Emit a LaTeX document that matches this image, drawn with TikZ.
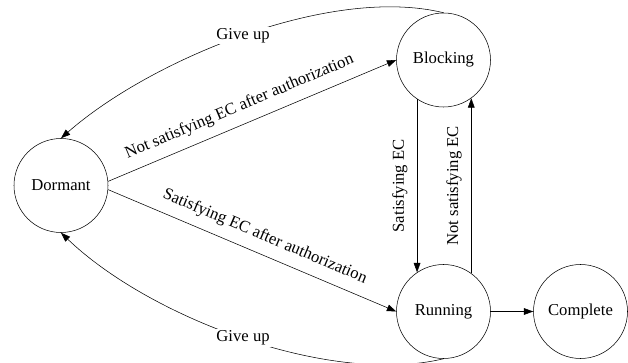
\documentclass[tikz,border=0pt]{standalone}
\usepackage{fontspec}
\setmainfont{Liberation Serif}
\usetikzlibrary{arrows.meta, positioning}

\begin{document}
\begin{tikzpicture}[
      x=0.75pt, y=-0.75pt,
      every node/.style={font=\fontsize{12.5}{15}\selectfont},
      state/.style={draw, circle, minimum size=70.5pt, inner sep=0pt},
      lbl/.style={fill=white, inner sep=1pt},
      vlbl/.style={rotate=90, anchor=south, inner sep=7pt},
      >={Triangle[length=7pt, width=5pt]},
    ]
    \useasboundingbox (0,0) rectangle (628,363);
    \node[state] (dor) at (61,185.5)    {Dormant};
    \node[state] (blk) at (443.5,60)    {Blocking};
    \node[state] (run) at (443.5,311.5) {Running};
    \node[state] (cpl) at (580.5,311.5) {Complete};

    \draw[->] (dor.5) -- (blk.west)
      node[pos=0.48, above=4pt, sloped] {Not satisfying EC after authorization};
    \draw[->] (dor.-5) -- (run.west)
      node[pos=0.52, above=4pt, sloped] {Satisfying EC after authorization};
    \draw[->] (blk.-124) -- (run.124) node[midway, vlbl] {Satisfying EC};
    \draw[->] (run.54) -- (blk.-54) node[midway, vlbl] {Not satisfying EC};
    \draw[->] (run) -- (cpl);
    \draw[->] (blk.north) .. controls (330,-15) and (150,60) .. (dor.north)
      node[pos=0.5, lbl] {Give up};
    \draw[->] (run.south) .. controls (330,386) and (150,318) .. (dor.south)
      node[pos=0.5, lbl] {Give up};
  \end{tikzpicture}
\end{document}
